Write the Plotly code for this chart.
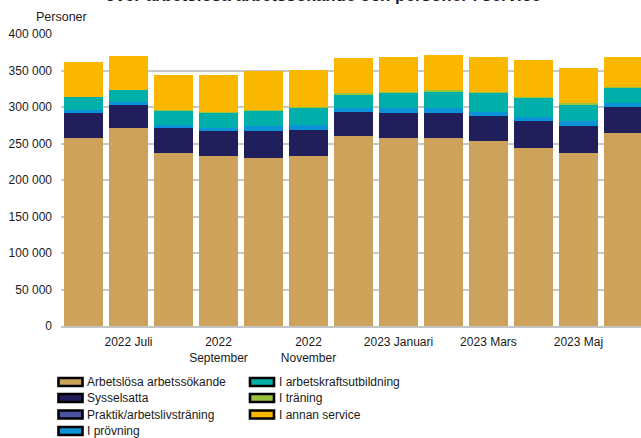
import plotly.graph_objects as go

months = ["2022 Juni", "2022 Juli", "2022 Augusti", "2022 September", "2022 Oktober",
          "2022 November", "2022 December", "2023 Januari", "2023 Februari", "2023 Mars",
          "2023 April", "2023 Maj", "2023 Juni"]
tick_months = ["2022 Juli", "2022 September", "2022 November", "2023 Januari", "2023 Mars", "2023 Maj"]
tick_text = ["2022 Juli", "2022<br>September", "2022<br>November", "2023 Januari", "2023 Mars", "2023 Maj"]

arbetslosa = [257600, 271300, 237000, 232900, 230200, 232900, 260300, 257600, 257600, 253500, 243900, 237000, 264400]
sysselsatta = [34200, 31500, 34300, 34300, 37000, 35600, 32900, 34200, 34200, 34200, 37000, 37000, 35600]
praktik = [400, 400, 400, 400, 400, 400, 400, 400, 400, 400, 400, 400, 400]
provning = [3700, 3700, 3300, 3700, 6400, 6500, 5500, 6500, 6500, 5100, 5000, 6500, 5100]
arbetskraft = [17800, 16400, 19600, 20500, 20600, 23300, 18700, 20500, 21900, 26000, 26100, 21900, 20600]
traning = [300, 300, 1300, 1800, 1700, 900, 1000, 1800, 3100, 1800, 900, 3100, 1300]
annan = [47700, 46300, 48000, 50300, 53100, 51100, 48400, 47500, 47600, 47500, 51100, 47600, 41100]

series = [
    ("Arbetslösa arbetssökande", arbetslosa, "#CDA25A"),
    ("Sysselsatta", sysselsatta, "#201F5B"),
    ("Praktik/arbetslivsträning", praktik, "#4B52A6"),
    ("I prövning", provning, "#0A93D6"),
    ("I arbetskraftsutbildning", arbetskraft, "#00AFAA"),
    ("I träning", traning, "#9BC23C"),
    ("I annan service", annan, "#FBB600"),
]

FONT = "Liberation Sans, Arial, sans-serif"
W, H = 641, 438
L, R, T, B = 61, 0, 34, 112
PW, PH = W - L - R, H - T - B

fig = go.Figure()
for name, vals, col in series:
    fig.add_trace(go.Bar(x=months, y=vals, name=name, marker=dict(color=col, line=dict(width=0)),
                         showlegend=False))

# manual legend (two columns, column-major)
legend_pos = [(0, 0), (0, 1), (0, 2), (0, 3), (1, 0), (1, 1), (1, 2)]
col_box_x = [58.5, 250]
row_y = [382, 398, 414.5, 431]
shapes = []
annotations = []
for (name, vals, col), (c, r) in zip(series, legend_pos):
    bx0 = col_box_x[c]
    bx1 = bx0 + 24
    py = row_y[r]
    shapes.append(dict(type="rect", xref="paper", yref="paper",
                       x0=(bx0 - L) / PW, x1=(bx1 - L) / PW,
                       y0=(T + PH - (py + 4)) / PH, y1=(T + PH - (py - 4)) / PH,
                       fillcolor=col, line=dict(color="black", width=2.6), layer="above"))
    annotations.append(dict(text=name, xref="paper", yref="paper",
                            x=(bx1 + 2.5 - L) / PW, y=(T + PH - py) / PH,
                            xanchor="left", yanchor="middle", showarrow=False,
                            font=dict(size=12, color="#1a1a1a", family=FONT)))

annotations.append(dict(text="Personer", xref="paper", yref="paper", x=0, y=1 + (T - 17) / PH,
                        xanchor="center", yanchor="middle", showarrow=False,
                        font=dict(size=12.5, color="#1a1a1a", family=FONT)))
annotations.append(dict(text="<b>över arbetslösa arbetssökande och personer i service</b>",
                        xref="paper", yref="paper", x=(323 - L) / PW, y=1 + (T + 4) / PH,
                        xanchor="center", yanchor="middle", showarrow=False,
                        font=dict(size=17, color="#1a1a1a", family=FONT)))

fig.update_layout(
    width=W, height=H,
    margin=dict(l=L, r=R, t=T, b=B, pad=0),
    barmode="stack", bargap=0.133,
    plot_bgcolor="white", paper_bgcolor="white",
    separators=", ",
    font=dict(family=FONT, size=12, color="#1a1a1a"),
    shapes=shapes, annotations=annotations,
    xaxis=dict(type="category", range=[-0.5, 12.39], tickmode="array",
               tickvals=tick_months, ticktext=tick_text, showgrid=False,
               showline=True, linecolor="#c4c4c4", linewidth=2, ticks="",
               ticklabelstandoff=4, tickfont=dict(size=12, family=FONT, color="#1a1a1a")),
    yaxis=dict(range=[0, 400000], dtick=50000, tickformat=",d", showgrid=True,
               gridcolor="#c8c8c8", gridwidth=1.6, zeroline=False, showline=False,
               ticks="", ticklabelstandoff=8, tickfont=dict(size=12, family=FONT, color="#1a1a1a")),
)

fig.write_html("out.html", config={"displayModeBar": False},
               post_script="document.body.style.margin='0';document.body.style.overflow='hidden';")
